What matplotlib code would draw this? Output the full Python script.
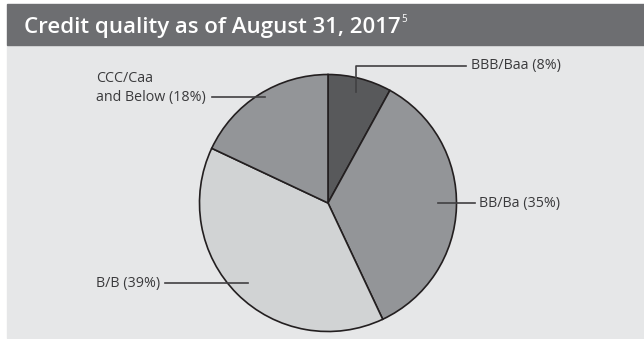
import numpy as np
import matplotlib
matplotlib.use("Agg")
import matplotlib.pyplot as plt
from matplotlib.patches import Rectangle

# data
categories = ["BBB/Baa", "BB/Ba", "B/B", "CCC/Caa\nand Below"]
shares = [8, 35, 39, 18]
colors = ["#58595b", "#939598", "#d1d3d4", "#939598"]

W, H = 644, 339
fig = plt.figure(figsize=(W / 100, H / 100), dpi=100)
fig.patch.set_facecolor("white")
ax = fig.add_axes([0, 0, 1, 1])
ax.set_xlim(0, W)
ax.set_ylim(0, H)
ax.axis("off")

def py(y):
    # pixel row (from top) -> data y
    return H - y

# panel background and header bar
ax.add_patch(Rectangle((7, py(338)), W - 7, 292, color="#e6e7e8", zorder=0))
ax.add_patch(Rectangle((7, py(45)), W - 7, 41, color="#6d6e71", zorder=0))
title = ax.text(24, py(33), "Credit quality as of August 31, 2017", color="white",
                fontsize=16, fontweight="semibold", family="Open Sans",
                va="baseline", ha="left")
r = fig.canvas.get_renderer()
bb = title.get_window_extent(renderer=r)
ax.text(bb.x1 + 1, py(22), "5", color="white", fontsize=7, family="Open Sans",
        va="baseline", ha="left")

cx, cy, R = 328, py(203), 128.5
wedges, _ = ax.pie(shares, colors=colors, startangle=90, counterclock=False,
                   center=(cx, cy), radius=R,
                   wedgeprops=dict(edgecolor="#231f20", linewidth=1.2))
ax.set_xlim(0, W)
ax.set_ylim(0, H)
ax.set_aspect("auto")

labels = [f"{c} ({s}%)" for c, s in zip(categories, shares)]
# anchor radius fraction, label x, label y (pixels), text alignment
anchor_r = [0.89, 0.86, 0.885, 0.92]
lab_pos = [(471, 66), (479, 203), (160, 283), (207, 97)]
lab_ha = ["left", "left", "right", "right"]
line_end = [466, 475, 165, 212]

lc = "#414042"
tc = "#3a3a3c"
fs = 10.3
for i, w in enumerate(wedges):
    mid = np.deg2rad((w.theta1 + w.theta2) / 2)
    ax_x = cx + anchor_r[i] * R * np.cos(mid)
    ax_y = cy + anchor_r[i] * R * np.sin(mid)
    lx, ly = lab_pos[i]
    if i == 0:
        ax.plot([ax_x, ax_x, line_end[i]], [ax_y, py(ly), py(ly)], color=lc, lw=1.2, zorder=5)
    else:
        ax.plot([ax_x, line_end[i]], [py(ly), py(ly)], color=lc, lw=1.2, zorder=5)
    if i == 3:
        ax.text(96, py(78), "CCC/Caa", fontsize=fs, family="Open Sans", color=tc,
                ha="left", va="center")
        ax.text(96, py(ly), "and Below (%d%%)" % shares[i], fontsize=fs, family="Open Sans",
                color=tc, ha="left", va="center")
    else:
        ax.text(lx, py(ly), labels[i], fontsize=fs, family="Open Sans", color=tc,
                ha=lab_ha[i], va="center")

fig.savefig("out.png", dpi=100)
